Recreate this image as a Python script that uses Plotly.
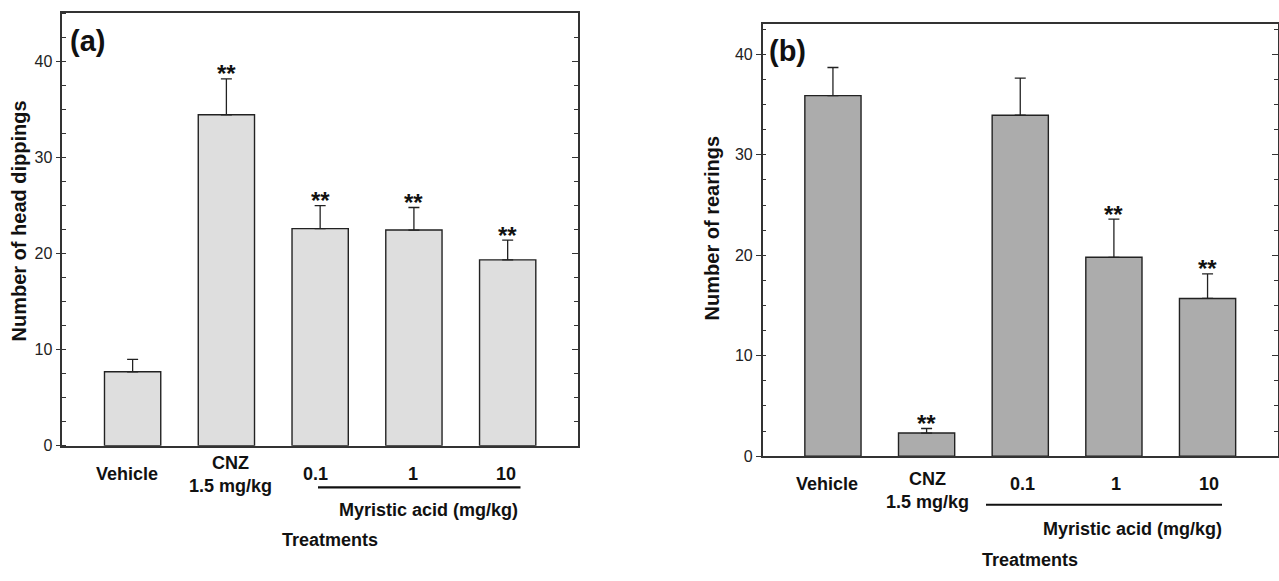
import plotly.graph_objects as go

# ---------------- data ----------------
categories = ["Vehicle", "CNZ<br>1.5 mg/kg", "0.1", "1", "10"]
head_dippings_mean = [7.7, 34.45, 22.6, 22.45, 19.35]
head_dippings_sem = [1.28, 3.75, 2.4, 2.35, 2.05]
head_dippings_sig = ["", "**", "**", "**", "**"]

rearings_mean = [35.9, 2.3, 33.95, 19.8, 15.7]
rearings_sem = [2.8, 0.45, 3.7, 3.8, 2.45]
rearings_sig = ["", "**", "", "**", "**"]

y_ticks = [0, 10, 20, 30, 40]
y_title_a = "Number of head dippings"
y_title_b = "Number of rearings"
group_label = "Myristic acid (mg/kg)"
x_title = "Treatments"

# ---------------- layout helpers ----------------
W, H = 1279, 581
def px(x):
    return x / W
def py(y):
    return 1 - y / H

FONT = "Liberation Sans, Arial, sans-serif"
AX = "#333333"
x_idx = list(range(len(categories)))

fig = go.Figure()

panels = [
    dict(x="x", y="y", mean=head_dippings_mean, sem=head_dippings_sem,
         sig=head_dippings_sig, fill="#dedede"),
    dict(x="x2", y="y2", mean=rearings_mean, sem=rearings_sem,
         sig=rearings_sig, fill="#acacac"),
]
for p in panels:
    fig.add_trace(go.Bar(
        x=x_idx, y=p["mean"], xaxis=p["x"], yaxis=p["y"], width=0.6,
        marker=dict(color=p["fill"], line=dict(color="#222222", width=1.4)),
        error_y=dict(type="data", symmetric=False, array=p["sem"],
                     arrayminus=[0] * len(p["sem"]), width=5.5,
                     thickness=1.3, color="#222222"),
        showlegend=False, hoverinfo="skip"))
    for i, (m, s, t) in enumerate(zip(p["mean"], p["sem"], p["sig"])):
        if t:
            fig.add_annotation(x=i, y=m + s, xref=p["x"], yref=p["y"],
                               text="<b>%s</b>" % t, showarrow=False,
                               yanchor="middle", yshift=5,
                               font=dict(family=FONT, size=24, color="#111"))

def xaxis_cfg(dom, anchor):
    return dict(domain=dom, anchor=anchor, range=[-0.75, 4.75], showline=True,
                mirror=True, linecolor=AX, linewidth=1.5, ticks="",
                showticklabels=False, showgrid=False, zeroline=False,
                fixedrange=True)

def yaxis_left(dom, rng, anchor):
    return dict(domain=dom, range=rng, anchor=anchor, tickvals=y_ticks,
                ticks="outside", ticklen=5, tickwidth=1.2, tickcolor=AX,
                minor=dict(dtick=2.5, tick0=0, ticks="inside", ticklen=3.5,
                           tickwidth=1, tickcolor=AX),
                showline=True, linecolor=AX, linewidth=1.5, showgrid=False,
                zeroline=False, tickfont=dict(family=FONT, size=16, color="#222"),
                fixedrange=True)

def yaxis_right(dom, rng, anchor, over):
    return dict(domain=dom, range=rng, anchor=anchor, overlaying=over,
                side="right", tickvals=y_ticks, ticks="inside", ticklen=6,
                tickwidth=1.2, tickcolor=AX,
                minor=dict(dtick=2.5, tick0=0, ticks="inside", ticklen=4,
                           tickwidth=1, tickcolor=AX),
                showline=True, linecolor=AX, linewidth=1.5, showgrid=False,
                zeroline=False, showticklabels=False, fixedrange=True)

domA_x = [px(62.3), px(578)]
domA_y = [py(452.7), py(13.7)]
domB_x = [px(762.7), px(1277.8)]
domB_y = [py(463.3), py(24.7)]

fig.update_layout(
    width=W, height=H, margin=dict(l=0, r=0, t=0, b=0),
    paper_bgcolor="white", plot_bgcolor="white",
    font=dict(family=FONT, color="#111"),
    xaxis=xaxis_cfg(domA_x, "y"),
    yaxis=yaxis_left(domA_y, [0, 45], "x"),
    yaxis3=yaxis_right(domA_y, [0, 45], "x", "y"),
    xaxis2=xaxis_cfg(domB_x, "y2"),
    yaxis2=yaxis_left(domB_y, [0, 43], "x2"),
    yaxis4=yaxis_right(domB_y, [0, 43], "x2", "y2"),
)

# invisible traces so the overlay (right-hand) axes are drawn
fig.add_trace(go.Scatter(x=[0], y=[0], xaxis="x", yaxis="y3", mode="markers",
                         marker=dict(opacity=0), showlegend=False, hoverinfo="skip"))
fig.add_trace(go.Scatter(x=[0], y=[0], xaxis="x2", yaxis="y4", mode="markers",
                         marker=dict(opacity=0), showlegend=False, hoverinfo="skip"))

def text(x, y, s, size=18, angle=0):
    fig.add_annotation(x=px(x), y=py(y), xref="paper", yref="paper",
                       text="<b>%s</b>" % s, showarrow=False, textangle=angle,
                       xanchor="center", yanchor="middle",
                       font=dict(family=FONT, size=size, color="#111"))

# panel (a) category labels
text(127, 481, categories[0])
text(230, 482, categories[1])
text(315, 481, categories[2])
text(413, 481, categories[3])
text(506, 481, categories[4])
text(429, 518, group_label)
text(330, 548, x_title)
text(87, 42, "(a)", size=29)
text(19, 225, y_title_a, size=20, angle=-90)
fig.add_shape(type="line", xref="paper", yref="paper",
              x0=px(318), x1=px(520.5), y0=py(495), y1=py(495),
              line=dict(color="#111", width=2.2))

# panel (b) category labels
text(827, 492, categories[0])
text(928, 498, categories[1])
text(1022.7, 492, categories[2])
text(1116, 492, categories[3])
text(1209, 492, categories[4])
text(1132, 537, group_label)
text(1030, 569, x_title)
text(787.5, 52, "(b)", size=29)
text(712, 232, y_title_b, size=20, angle=-90)
fig.add_shape(type="line", xref="paper", yref="paper",
              x0=px(986), x1=px(1222), y0=py(512.7), y1=py(512.7),
              line=dict(color="#111", width=2.2))

# remove the default page margin so the figure sits at the window's corner
fig.write_html("out.html", config={"displayModeBar": False},
               post_script="document.body.style.margin='0px';"
                           "document.body.style.overflow='hidden';")
